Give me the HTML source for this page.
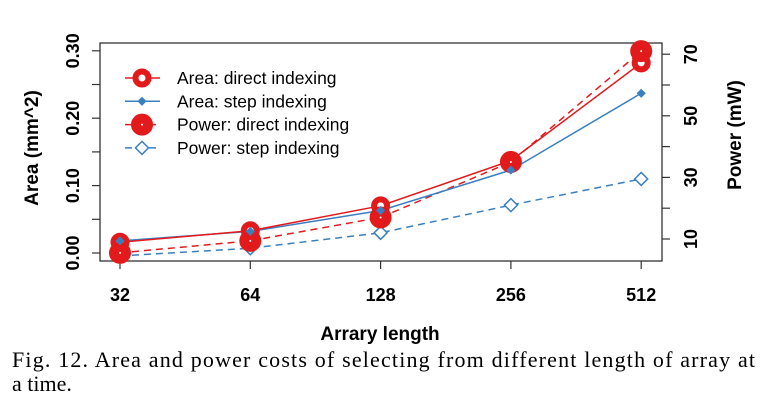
<!DOCTYPE html>
<html><head><meta charset="utf-8"><style>
html,body{margin:0;padding:0;background:#fff;}
svg{display:block;}
</style></head><body>
<svg id="chart" width="769" height="402" viewBox="0 0 769 402" xmlns="http://www.w3.org/2000/svg">
<g id="axes"></g>
<g id="series"></g>
<g id="legend"></g>
<text x="380" y="340" font-family="Liberation Sans, sans-serif" font-weight="bold" font-size="19" text-anchor="middle">Arrary length</text>
<text x="38" y="148" font-family="Liberation Sans, sans-serif" font-weight="bold" font-size="19" text-anchor="middle" transform="rotate(-90 38 148)">Area (mm^2)</text>
<text x="741" y="135" font-family="Liberation Sans, sans-serif" font-weight="bold" font-size="19" text-anchor="middle" transform="rotate(-90 741 135)">Power (mW)</text>
<text x="12" y="367" font-family="Liberation Serif, serif" font-size="22" textLength="743" lengthAdjust="spacing">Fig. 12.  Area and power costs of selecting from different length of array at</text>
<text x="12" y="391" font-family="Liberation Serif, serif" font-size="22">a time.</text>
</svg>
<script>
const categories = ["32","64","128","256","512"];
const areaDirect = [0.016, 0.033, 0.070, 0.137, 0.282];
const areaStep = [0.018, 0.032, 0.063, 0.123, 0.237];
const powerDirect = [5.5, 9.4, 17, 35, 71];
const powerStep = [4.5, 7, 12, 21, 29.5];
const leftTicks = [0, 0.05, 0.10, 0.15, 0.20, 0.25, 0.30];
const leftTickLabels = ["0.00","","0.10","","0.20","","0.30"];
const rightTicks = [10,20,30,40,50,60,70];
const rightTickLabels = ["10","","30","","50","","70"];

const NS = "http://www.w3.org/2000/svg";
const RED = "#e31a1c", BLUE = "#3a7fc0";
const xScale = i => 120 + i * 130.3;
const yLeft = v => 253 - v * 674;
const yRight = v => 239 - (v - 10) * 3.08;
function mk(tag, attrs, parent){const e=document.createElementNS(NS,tag);for(const k in attrs)e.setAttribute(k,attrs[k]);parent.appendChild(e);return e;}
const axes = document.getElementById('axes');
const series = document.getElementById('series');
const legend = document.getElementById('legend');
const FONT = "Liberation Sans, sans-serif";

let box = mk('rect',{x:100,y:43,width:562,height:218,fill:'none',stroke:'#333','stroke-width':1.3},axes);


leftTicks.forEach((v,i)=>{
  const y=yLeft(v);
  let t=mk('line',{x1:92,x2:100,y1:y,y2:y,stroke:'#333','stroke-width':1.2},axes);
  
  
  if(leftTickLabels[i]){
    let l=mk('text',{x:79,y:y,'font-family':FONT,'font-weight':'bold','font-size':18,'text-anchor':'middle',transform:`rotate(-90 79 ${y})`},axes);
    l.textContent=leftTickLabels[i];
    
    
  }
});
rightTicks.forEach((v,i)=>{
  const y=yRight(v);
  let t=mk('line',{x1:662,x2:670,y1:y,y2:y,stroke:'#333','stroke-width':1.2},axes);
  
  
  if(rightTickLabels[i]){
    let l=mk('text',{x:697,y:y,'font-family':FONT,'font-weight':'bold','font-size':18,'text-anchor':'middle',transform:`rotate(-90 697 ${y})`},axes);
    l.textContent=rightTickLabels[i];
    
    
  }
});
categories.forEach((c,i)=>{
  const x=xScale(i);
  let t=mk('line',{x1:x,x2:x,y1:261,y2:269,stroke:'#333','stroke-width':1.2},axes);
  
  
  let l=mk('text',{x:x,y:301,'font-family':FONT,'font-weight':'bold','font-size':18,'text-anchor':'middle'},axes);
  l.textContent=c;
  
  
});
function line(vals, yf, color, dash, name){
  const pts=vals.map((v,i)=>xScale(i)+','+yf(v)).join(' ');
  let p=mk('polyline',{points:pts,fill:'none',stroke:color,'stroke-width':1.5,'stroke-dasharray':dash||'none'},series);
  
  
}
function circle(x,y,r,sw,parent,name){
  let c=mk('circle',{cx:x,cy:y,r:r,fill:'#fff',stroke:RED,'stroke-width':sw},parent);
  
  
}
function diamond(x,y,s,filled,parent,name){
  let d=mk('polygon',{points:`${x},${y-s} ${x+s},${y} ${x},${y+s} ${x-s},${y}`,fill:filled?BLUE:'#fff',stroke:BLUE,'stroke-width':1.5},parent);
  
  
}
line(powerStep,yRight,BLUE,'7,5','power-step-line');
line(powerDirect,yRight,RED,'7,5','power-direct-line');
line(areaStep,yLeft,BLUE,null,'area-step-line');
line(areaDirect,yLeft,RED,null,'area-direct-line');
powerStep.forEach((v,i)=>diamond(xScale(i),yRight(v),6.5,false,series,'power-step-point'));
areaDirect.forEach((v,i)=>circle(xScale(i),yLeft(v),6.5,6,series,'area-direct-point'));
powerDirect.forEach((v,i)=>circle(xScale(i),yRight(v),6,10,series,'power-direct-point'));
areaStep.forEach((v,i)=>diamond(xScale(i),yLeft(v),3.5,true,series,'area-step-point'));

const legendItems=[["Area: direct indexing",RED,null,'c1'],["Area: step indexing",BLUE,null,'d1'],["Power: direct indexing",RED,'7,5','c2'],["Power: step indexing",BLUE,'7,5','d2']];
legendItems.forEach((it,i)=>{
  const y=78+i*23.3;
  let l=mk('line',{x1:125,x2:160,y1:y,y2:y,stroke:it[1],'stroke-width':1.5,'stroke-dasharray':it[2]||'none'},legend);
  
  
  if(it[3]==='c1')circle(142,y,6.5,6,legend,'legend-marker');
  if(it[3]==='c2')circle(142,y,6,10,legend,'legend-marker');
  if(it[3]==='d1')diamond(142,y,3.5,true,legend,'legend-marker');
  if(it[3]==='d2')diamond(142,y,6.5,false,legend,'legend-marker');
  let t=mk('text',{x:177,y:y+6,'font-family':FONT,'font-size':17.5},legend);
  t.textContent=it[0];
  
  
});
</script>
</body></html>
